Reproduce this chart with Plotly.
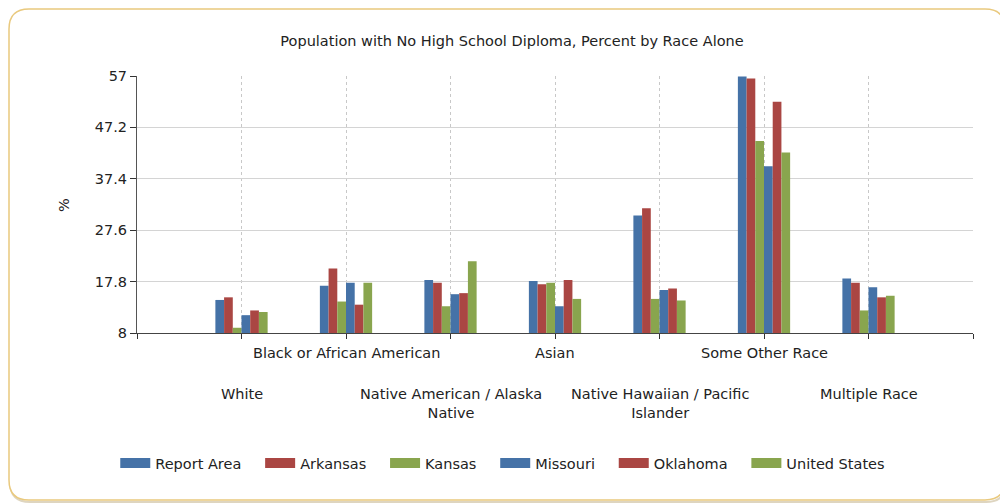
import plotly.graph_objects as go

# ---------------- data ----------------
categories = ["White", "Black or African American", "Native American / Alaska Native",
              "Asian", "Native Hawaiian / Pacific Islander", "Some Other Race", "Multiple Race"]
label_text = ["White", "Black or African American", "Native American / Alaska<br>Native",
              "Asian", "Native Hawaiian / Pacific<br>Islander", "Some Other Race", "Multiple Race"]
label_row = [2, 1, 2, 1, 2, 1, 2]

report_area   = [14.3, 17.0, 18.1, 17.9, 30.4, 56.9, 18.4]
arkansas      = [14.8, 20.3, 17.6, 17.3, 31.8, 56.5, 17.6]
kansas        = [9.0, 14.0, 13.1, 17.6, 14.5, 44.6, 12.3]
missouri      = [11.4, 17.6, 15.4, 13.1, 16.2, 39.8, 16.7]
oklahoma      = [12.3, 13.4, 15.6, 18.1, 16.5, 52.1, 14.8]
united_states = [12.0, 17.6, 21.7, 14.5, 14.2, 42.4, 15.1]

series_names = ["Report Area", "Arkansas", "Kansas", "Missouri", "Oklahoma", "United States"]
series_values = [report_area, arkansas, kansas, missouri, oklahoma, united_states]
series_colors = ["#4572A7", "#AA4643", "#89A54E", "#4572A7", "#AA4643", "#89A54E"]

y_ticks = [8, 17.8, 27.6, 37.4, 47.2, 57]
title_text = "Population with No High School Diploma, Percent by Race Alone"

FONT = "DejaVu Sans"
FS = 14.5
TXT = "#222222"

# ---------------- figure ----------------
x_pos = list(range(1, len(categories) + 1))
fig = go.Figure()
for name, vals, col in zip(series_names, series_values, series_colors):
    fig.add_trace(go.Bar(x=x_pos, y=vals, name=name, marker=dict(color=col, line=dict(width=0)),
                         showlegend=False, hovertext=categories))
# legend entries (wide colour swatches)
pad = "\u00a0\u00a0\u00a0"
for name, col in zip(series_names, series_colors):
    fig.add_trace(go.Scatter(x=[None], y=[None], mode="lines", name=name + pad,
                             line=dict(color=col, width=13), showlegend=True))

shapes = []
# gradient background of plot area
n_bands = 40
top_rgb = (251, 240, 224)
bot_rgb = (255, 255, 255)
for i in range(n_bands):
    t = i / (n_bands - 1)
    r = round(top_rgb[0] + (bot_rgb[0] - top_rgb[0]) * t)
    g = round(top_rgb[1] + (bot_rgb[1] - top_rgb[1]) * t)
    b = round(top_rgb[2] + (bot_rgb[2] - top_rgb[2]) * t)
    shapes.append(dict(type="rect", xref="x domain", yref="y domain",
                       x0=0, x1=1, y0=1 - (i + 1) / n_bands, y1=1 - i / n_bands,
                       fillcolor=f"rgb({r},{g},{b})", line=dict(width=0), layer="below"))

# rounded outer frame (pixels relative to plot-area bottom-left)
def rounded(l, r, top, bot, rad):
    return (f"M{l+rad},{top} L{r-rad},{top} Q{r},{top} {r},{top-rad} "
            f"L{r},{bot+rad} Q{r},{bot} {r-rad},{bot} L{l+rad},{bot} "
            f"Q{l},{bot} {l},{bot+rad} L{l},{top-rad} Q{l},{top} {l+rad},{top} Z")

shapes.append(dict(type="path", xref="paper", yref="paper", xsizemode="pixel", ysizemode="pixel",
                   xanchor=0, yanchor=0, path=rounded(-127, 869, 322, -169, 20),
                   line=dict(color="rgba(200,185,150,0.6)", width=2), layer="below"))
shapes.append(dict(type="path", xref="paper", yref="paper", xsizemode="pixel", ysizemode="pixel",
                   xanchor=0, yanchor=0, path=rounded(-128, 868, 324, -167, 20),
                   line=dict(color="#E9C97E", width=1.5), fillcolor="white", layer="below"))

annotations = []
for xp, txt, row in zip(x_pos, label_text, label_row):
    annotations.append(dict(x=xp, y=0, xref="x", yref="paper", text=txt, showarrow=False,
                            xanchor="center", yanchor="top", yshift=-10 if row == 1 else -51,
                            font=dict(family=FONT, size=FS, color=TXT)))
annotations.append(dict(x=-0.1, y=0.5, xref="paper", yref="paper", text="%", showarrow=False,
                        textangle=-90, font=dict(family=FONT, size=FS, color=TXT)))

fig.update_layout(
    width=1000, height=495,
    margin=dict(l=129, r=35, t=68, b=170),
    paper_bgcolor="white", plot_bgcolor="white",
    barmode="group", bargap=0.5, bargroupgap=0,
    font=dict(family=FONT, size=FS, color=TXT),
    title=dict(text=title_text, x=504 / 1000, xref="container", y=1 - 33 / 495, yref="container",
               xanchor="center", yanchor="middle", font=dict(family=FONT, size=FS, color=TXT)),
    xaxis=dict(range=[0, 8], tickvals=list(range(0, 9)), showticklabels=False,
               ticks="outside", ticklen=5, tickcolor="#333333",
               showline=True, linecolor="#444444", linewidth=1,
               showgrid=True, gridcolor="#C8C8C8", griddash="dot", gridwidth=1, zeroline=False),
    yaxis=dict(range=[8, 57], tickvals=y_ticks, ticktext=[f"{v:g}" for v in y_ticks],
               ticks="outside", ticklen=6, tickcolor="#333333",
               showline=True, linecolor="#555555", linewidth=1,
               showgrid=True, gridcolor="#D4D4D4", gridwidth=1, zeroline=False,
               tickfont=dict(family=FONT, size=FS, color=TXT)),
    legend=dict(orientation="h", x=-0.026, xanchor="left", y=-0.506, yanchor="middle",
                font=dict(family=FONT, size=FS, color=TXT), bgcolor="rgba(0,0,0,0)",
                itemwidth=30, traceorder="normal"),
    shapes=shapes, annotations=annotations,
)

fig.write_html("out.html")
